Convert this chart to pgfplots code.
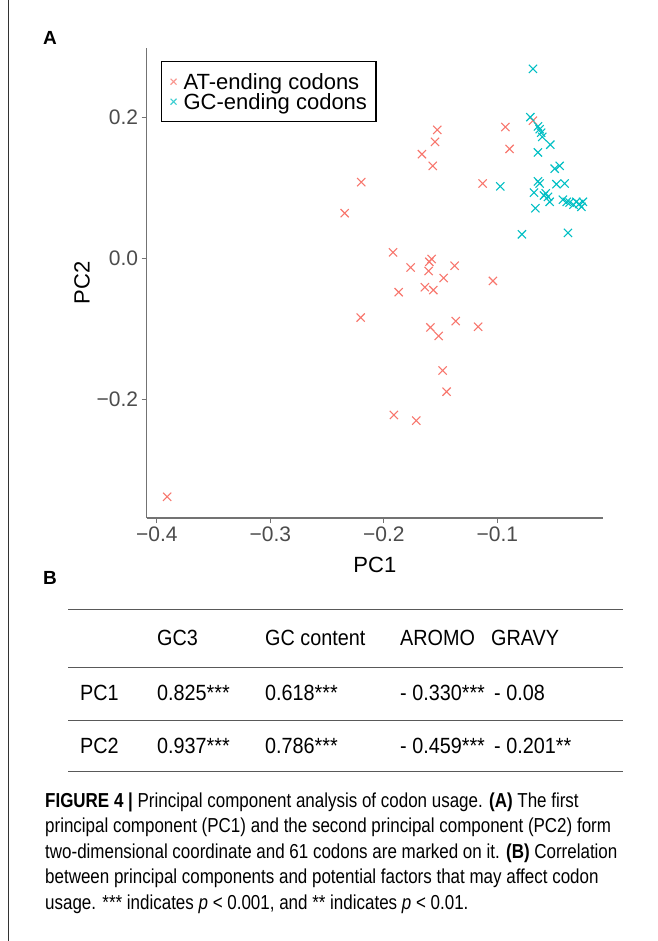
\documentclass[border=0pt]{standalone}
\usepackage{fontspec}
\setmainfont{Liberation Sans}
\newfontfamily\capfont[FakeStretch=0.84]{Liberation Sans}
\newfontfamily\tabfont[FakeStretch=0.9]{Liberation Sans}
\usepackage{pgfplots}
\pgfplotsset{compat=1.18}
\definecolor{atcol}{HTML}{F8766D}
\definecolor{gccol}{HTML}{00BFC4}
\begin{document}
\begin{tikzpicture}
\useasboundingbox (0,0) rectangle (657pt,-941pt);
\fill[white] (0,0) rectangle (657pt,-941pt);
\draw[black!80, line width=1pt] (8pt,0pt) -- (8pt,-941pt);
\node[font=\bfseries\fontsize{19}{19}\selectfont, anchor=center] at (50pt,-38pt) {A};
\node[font=\bfseries\fontsize{19}{19}\selectfont, anchor=center] at (50pt,-578pt) {B};
\begin{axis}[
  at={(146.7pt,-518pt)}, anchor=south west,
  scale only axis, width=456.3pt, height=470pt,
  xmin=-0.409, xmax=-0.007, ymin=-0.368, ymax=0.298,
  axis x line*=bottom, axis y line*=left,
  axis line style={black!55, line width=1.1pt},
  every tick/.style={black!55, line width=1.1pt},
  major tick length=5pt, tick align=outside,
  xtick={-0.4,-0.3,-0.2,-0.1}, xticklabels={−0.4,−0.3,−0.2,−0.1},
  ytick={-0.2,0,0.2}, yticklabels={−0.2,0.0,0.2},
  tick label style={font=\fontsize{21}{21}\selectfont, text=black!70},
  xlabel={PC1}, ylabel={PC2},
  label style={font=\fontsize{22}{22}\selectfont},
  xlabel style={at={(axis description cs:0.5,-0.1)}, anchor=center},
  ylabel style={at={(axis description cs:-0.1418,0.5)}, anchor=center},
  legend style={at={(0.0313,0.9723)}, anchor=north west, draw=black, line width=1.3pt,
    font=\fontsize{22}{22}\selectfont, inner xsep=9pt, inner ysep=10pt,
    cells={anchor=west}, nodes={inner sep=0pt, text height=17.5pt, text depth=2.5pt},
    row sep=0pt, /tikz/every odd column/.append style={column sep=7pt}},
  legend image post style={mark size=4.2pt, opacity=0.75},
]
\addplot[only marks, mark=x, mark size=5.8pt, color=atcol, line width=1.1pt] coordinates {
(-0.153,0.182) (-0.155,0.165) (-0.1665,0.1475) (-0.157,0.131) (-0.220,0.108)
(-0.2346,0.064) (-0.113,0.106) (-0.093,0.186) (-0.0893,0.155) (-0.0687,0.195)
(-0.192,0.0085) (-0.1765,-0.013) (-0.158,-0.001) (-0.160,-0.005) (-0.1606,-0.018)
(-0.1377,-0.0105) (-0.1474,-0.028) (-0.104,-0.032) (-0.187,-0.048) (-0.164,-0.041)
(-0.1565,-0.045) (-0.2205,-0.084) (-0.159,-0.098) (-0.1518,-0.110) (-0.1368,-0.089)
(-0.117,-0.097) (-0.1483,-0.159) (-0.1448,-0.189) (-0.1912,-0.222) (-0.1715,-0.230)
(-0.391,-0.338)
};
\addlegendentry{AT-ending codons}
\addplot[only marks, mark=x, mark size=5.8pt, color=gccol, line width=1.1pt] coordinates {
(-0.0687,0.2685) (-0.071,0.200) (-0.0643,0.187) (-0.0628,0.183) (-0.0605,0.172)
(-0.0534,0.161) (-0.0643,0.150) (-0.0496,0.127) (-0.0452,0.131) (-0.0975,0.102)
(-0.0643,0.109) (-0.0628,0.106) (-0.048,0.105) (-0.0408,0.106) (-0.0678,0.093)
(-0.0575,0.092) (-0.0555,0.087) (-0.054,0.080) (-0.0423,0.083) (-0.0364,0.079)
(-0.0305,0.080) (-0.0247,0.080) (-0.026,0.073) (-0.033,0.076) (-0.0666,0.071)
(-0.0784,0.034) (-0.0379,0.036) (-0.059,0.089) (-0.028,0.077) (-0.039,0.080)
(-0.0615,0.178)
};
\addlegendentry{GC-ending codons}
\end{axis}
% table B
\foreach \yy in {609,667,720,771} {\draw[black!65, line width=1pt] (68pt,-\yy pt) -- (623pt,-\yy pt);}
\begin{scope}[every node/.style={anchor=base west, inner sep=0pt, font=\tabfont\fontsize{22}{22}\selectfont}]
\node at (157pt,-645pt) {GC3};
\node at (265pt,-645pt) {GC content};
\node at (400pt,-645pt) {AROMO};
\node at (491pt,-645pt) {GRAVY};
\node at (80pt,-700pt) {PC1};
\node at (157pt,-700pt) {0.825***};
\node at (265pt,-700pt) {0.618***};
\node at (400pt,-700pt) {- 0.330***};
\node at (494pt,-700pt) {- 0.08};
\node at (80pt,-753pt) {PC2};
\node at (157pt,-753pt) {0.937***};
\node at (265pt,-753pt) {0.786***};
\node at (400pt,-753pt) {- 0.459***};
\node at (494pt,-753pt) {- 0.201**};
\end{scope}
% caption
\begin{scope}[every node/.style={anchor=base west, inner sep=0pt, font=\capfont\fontsize{20.2}{20.2}\selectfont}]
\node at (45pt,-807pt) {\textbf{FIGURE 4 |} Principal component analysis of codon usage. \textbf{(A)} The first};
\node at (45pt,-832.5pt) {principal component (PC1) and the second principal component (PC2) form};
\node at (45pt,-858pt) {two-dimensional coordinate and 61 codons are marked on it. \textbf{(B)} Correlation};
\node at (45pt,-883.5pt) {between principal components and potential factors that may affect codon};
\node at (45pt,-909pt) {usage. *** indicates \textit{p}~<~0.001, and ** indicates \textit{p}~<~0.01.};
\end{scope}
\end{tikzpicture}
\end{document}
